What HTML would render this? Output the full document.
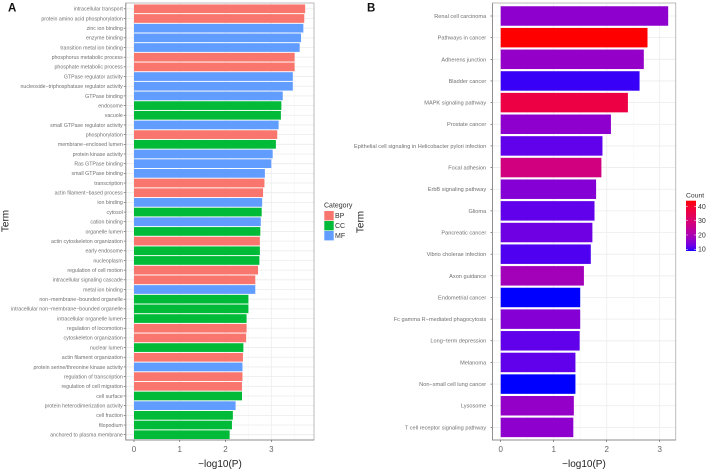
<!DOCTYPE html>
<html lang="en">
<head>
<meta charset="utf-8">
<title>Enrichment bar charts</title>
<style>
html,body{margin:0;padding:0;background:#fff;width:709px;height:470px;overflow:hidden}
svg{display:block;filter:blur(0.35px);font-family:"Liberation Sans",sans-serif}
</style>
</head>
<body>
<svg id="figure" xmlns="http://www.w3.org/2000/svg" width="709" height="470" viewBox="0 0 709 470">
  <rect width="709" height="470" fill="#fff"/>
  <text x="8" y="11.5" font-size="11.5" font-weight="bold" fill="#111">A</text>
  <text x="367" y="11.5" font-size="11.5" font-weight="bold" fill="#111">B</text>
  <text transform="translate(8.5,221) rotate(-90)" text-anchor="middle" font-size="10" fill="#222">Term</text>
  <text transform="translate(363.5,222) rotate(-90)" text-anchor="middle" font-size="10" fill="#222">Term</text>
  <text x="220" y="467" text-anchor="middle" font-size="10" fill="#222">&#8722;log10(P)</text>
  <text x="584" y="467" text-anchor="middle" font-size="10" fill="#222">&#8722;log10(P)</text>

  <g font-size="7" fill="#333">
    <text x="324" y="207.5" font-size="7">Category</text>
    <rect x="324.3" y="211" width="9.4" height="9.4" fill="#F8766D"/>
    <rect x="324.3" y="221" width="9.4" height="9.4" fill="#00BA38"/>
    <rect x="324.3" y="231" width="9.4" height="9.4" fill="#619CFF"/>
    <text x="335" y="218">BP</text>
    <text x="335" y="228">CC</text>
    <text x="335" y="238">MF</text>
  </g>
  <g id="count-legend">
    <text x="686" y="197.5" font-size="6.8" fill="#333">Count</text>
  </g>
  <g id="panel-a"></g>
  <g id="panel-b"></g>
</svg>

<script>
const termsA = ["intracellular transport","protein amino acid phosphorylation","zinc ion binding","enzyme binding","transition metal ion binding","phosphorus metabolic process","phosphate metabolic process","GTPase regulator activity","nucleoside−triphosphatase regulator activity","GTPase binding","endosome","vacuole","small GTPase regulator activity","phosphorylation","membrane−enclosed lumen","protein kinase activity","Ras GTPase binding","small GTPase binding","transcription","actin filament−based process","ion binding","cytosol","cation binding","organelle lumen","actin cytoskeleton organization","early endosome","nucleoplasm","regulation of cell motion","intracellular signaling cascade","metal ion binding","non−membrane−bounded organelle","intracellular non−membrane−bounded organelle","intracellular organelle lumen","regulation of locomotion","cytoskeleton organization","nuclear lumen","actin filament organization","protein serine/threonine kinase activity","regulation of transcription","regulation of cell migration","cell surface","protein heterodimerization activity","cell fraction","filopodium","anchored to plasma membrane"];
const valuesA = [3.74,3.72,3.70,3.65,3.62,3.51,3.51,3.47,3.47,3.25,3.22,3.21,3.16,3.13,3.10,3.03,3.00,2.86,2.85,2.82,2.80,2.79,2.77,2.76,2.75,2.75,2.74,2.71,2.65,2.65,2.50,2.50,2.46,2.46,2.45,2.39,2.38,2.37,2.37,2.36,2.36,2.22,2.16,2.14,2.09];
const categoriesA = ["BP","BP","MF","MF","MF","BP","BP","MF","MF","MF","CC","CC","MF","BP","CC","MF","MF","MF","BP","BP","MF","CC","MF","CC","BP","CC","CC","BP","BP","MF","CC","CC","CC","BP","BP","CC","BP","MF","BP","BP","CC","MF","CC","CC","CC"];
const ticksA = [0,1,2,3];

const termsB = ["Renal cell carcinoma","Pathways in cancer","Adherens junction","Bladder cancer","MAPK signaling pathway","Prostate cancer","Epithelial cell signaling in Helicobacter pylori infection","Focal adhesion","ErbB signaling pathway","Glioma","Pancreatic cancer","Vibrio cholerae infection","Axon guidance","Endometrial cancer","Fc gamma R−mediated phagocytosis","Long−term depression","Melanoma","Non−small cell lung cancer","Lysosome","T cell receptor signaling pathway"];
const valuesB = [3.16,2.77,2.70,2.62,2.40,2.08,1.92,1.90,1.80,1.77,1.73,1.70,1.57,1.50,1.50,1.49,1.41,1.41,1.38,1.37];
const countsB = [16,44,17,10,37,16,12,28,15,12,13,11,19,9,15,12,12,9,17,16];
const ticksB = [0,1,2,3];
const countTicks = [10,20,30,40];
const countDomain = [9,44];

const SVGNS = "http://www.w3.org/2000/svg";
const categoryColors = {BP:"#F8766D",CC:"#00BA38",MF:"#619CFF"};

function make(parent, tag, attrs, text) {
  const el = document.createElementNS(SVGNS, tag);
  for (const k in attrs) el.setAttribute(k, attrs[k]);
  if (text !== undefined) el.textContent = text;
  parent.appendChild(el);
  return el;
}
function linear(d0, d1, r0, r1) {
  return v => r0 + (v - d0) / (d1 - d0) * (r1 - r0);
}
/* Lab-space blue to red gradient, as used by the original colour scale */
function srgbToLab(rgb) {
  const l = rgb.map(c => { c /= 255; return c > 0.04045 ? Math.pow((c + 0.055) / 1.055, 2.4) : c / 12.92; });
  const X = (0.4124 * l[0] + 0.3576 * l[1] + 0.1805 * l[2]) / 0.95047;
  const Y = 0.2126 * l[0] + 0.7152 * l[1] + 0.0722 * l[2];
  const Z = (0.0193 * l[0] + 0.1192 * l[1] + 0.9505 * l[2]) / 1.08883;
  const f = t => t > 0.008856 ? Math.cbrt(t) : 7.787 * t + 16 / 116;
  return [116 * f(Y) - 16, 500 * (f(X) - f(Y)), 200 * (f(Y) - f(Z))];
}
function labToCss(lab) {
  const fy = (lab[0] + 16) / 116, fx = fy + lab[1] / 500, fz = fy - lab[2] / 200;
  const g = t => t * t * t > 0.008856 ? t * t * t : (t - 16 / 116) / 7.787;
  const X = g(fx) * 0.95047, Y = g(fy), Z = g(fz) * 1.08883;
  const lin = [3.2406 * X - 1.5372 * Y - 0.4986 * Z, -0.9689 * X + 1.8758 * Y + 0.0415 * Z, 0.0557 * X - 0.204 * Y + 1.057 * Z];
  const out = lin.map(c => {
    c = Math.max(0, Math.min(1, c));
    return Math.round(255 * (c > 0.0031308 ? 1.055 * Math.pow(c, 1 / 2.4) - 0.055 : 12.92 * c));
  });
  return "rgb(" + out.join(",") + ")";
}
const labLow = srgbToLab([0, 0, 255]);
const labHigh = srgbToLab([255, 0, 0]);
function countColor(c) {
  const t = Math.max(0, Math.min(1, (c - countDomain[0]) / (countDomain[1] - countDomain[0])));
  return labToCss(labLow.map((v, i) => v + (labHigh[i] - v) * t));
}

function drawPanel(opts) {
  const g = document.getElementById(opts.id);
  const x = linear(0, opts.unitEnd, opts.x0, opts.xUnit);
  const left = opts.left, right = opts.right, top = 3, bottom = 440;
  const n = opts.terms.length;
  const y = i => opts.yFirst + i * (opts.yLast - opts.yFirst) / (n - 1);
  const step = (opts.yLast - opts.yFirst) / (n - 1);

  // minor vertical grid
  opts.ticks.forEach(t => {
    const xm = x(t + 0.5);
    if (xm < right) {
      const m = make(g, "line", {x1: xm, x2: xm, y1: top, y2: bottom, stroke: "#f4f4f4", "stroke-width": 0.5});
      
      
    }
    const v = make(g, "line", {x1: x(t), x2: x(t), y1: top, y2: bottom, stroke: "#ececec", "stroke-width": 0.8});
    
    
  });

  opts.terms.forEach((term, i) => {
    const h = make(g, "line", {x1: left, x2: right, y1: y(i), y2: y(i), stroke: "#ececec", "stroke-width": 0.8});
    
    

    const bar = make(g, "rect", {x: x(0), y: y(i) - step * 0.45, width: x(opts.values[i]) - x(0), height: step * 0.9, fill: opts.color(i)});
    
    

    const tick = make(g, "line", {x1: left - 2, x2: left, y1: y(i), y2: y(i), stroke: "#444", "stroke-width": 0.6});
    
    

    const label = make(g, "text", {x: opts.labelX, y: y(i) + opts.labelSize * 0.35, "text-anchor": "end", "font-size": opts.labelSize, fill: "#707070"}, term);
    
    
  });

  const border = make(g, "rect", {x: left, y: top, width: right - left, height: bottom - top, fill: "none", stroke: "#b4b4b4", "stroke-width": 0.9});
  
  

  const axisL = make(g, "path", {d: "M" + left + " " + top + "V" + bottom + "H" + right, fill: "none", stroke: "#8c8c8c", "stroke-width": 0.9});
  
  

  opts.ticks.forEach(t => {
    const tk = make(g, "line", {x1: x(t), x2: x(t), y1: bottom, y2: bottom + 2, stroke: "#555", "stroke-width": 0.6});
    
    
    const tl = make(g, "text", {x: x(t), y: 452, "text-anchor": "middle", "font-size": 8, fill: "#666"}, String(t));
    
    
  });
}

drawPanel({id: "panel-a", terms: termsA, values: valuesA, ticks: ticksA,
  color: i => categoryColors[categoriesA[i]],
  x0: 134, xUnit: 271.3, unitEnd: 3, left: 125.8, right: 314,
  yFirst: 8.8, yLast: 434.7, labelX: 122.8, labelSize: 5.25});
drawPanel({id: "panel-b", terms: termsB, values: valuesB, ticks: ticksB,
  color: i => countColor(countsB[i]),
  x0: 500.7, xUnit: 659.7, unitEnd: 3, left: 492.5, right: 675.7,
  yFirst: 16, yLast: 427.4, labelX: 486.2, labelSize: 5.6});

(function drawCountLegend() {
  const g = document.getElementById("count-legend");
  const barTop = 200.7, barBottom = 250.7, barLeft = 686, barW = 10;
  const yc = linear(countDomain[0], countDomain[1], barBottom, barTop);
  const slices = 50;
  for (let s = 0; s < slices; s++) {
    const c0 = countDomain[0] + (countDomain[1] - countDomain[0]) * s / slices;
    const c1 = countDomain[0] + (countDomain[1] - countDomain[0]) * (s + 1) / slices;
    const r = make(g, "rect", {x: barLeft, y: yc(c1), width: barW, height: yc(c0) - yc(c1) + 0.3, fill: countColor((c0 + c1) / 2)});
    
    
  }
  countTicks.forEach(t => {
    const a = make(g, "line", {x1: barLeft, x2: barLeft + 2, y1: yc(t), y2: yc(t), stroke: "#fff", "stroke-width": 0.5});
    
    
    const b = make(g, "line", {x1: barLeft + barW - 2, x2: barLeft + barW, y1: yc(t), y2: yc(t), stroke: "#fff", "stroke-width": 0.5});
    
    
    const l = make(g, "text", {x: barLeft + 12, y: yc(t) + 2.4, "font-size": 7, fill: "#333"}, String(t));
    
    
  });
})();
</script>
</body>
</html>
